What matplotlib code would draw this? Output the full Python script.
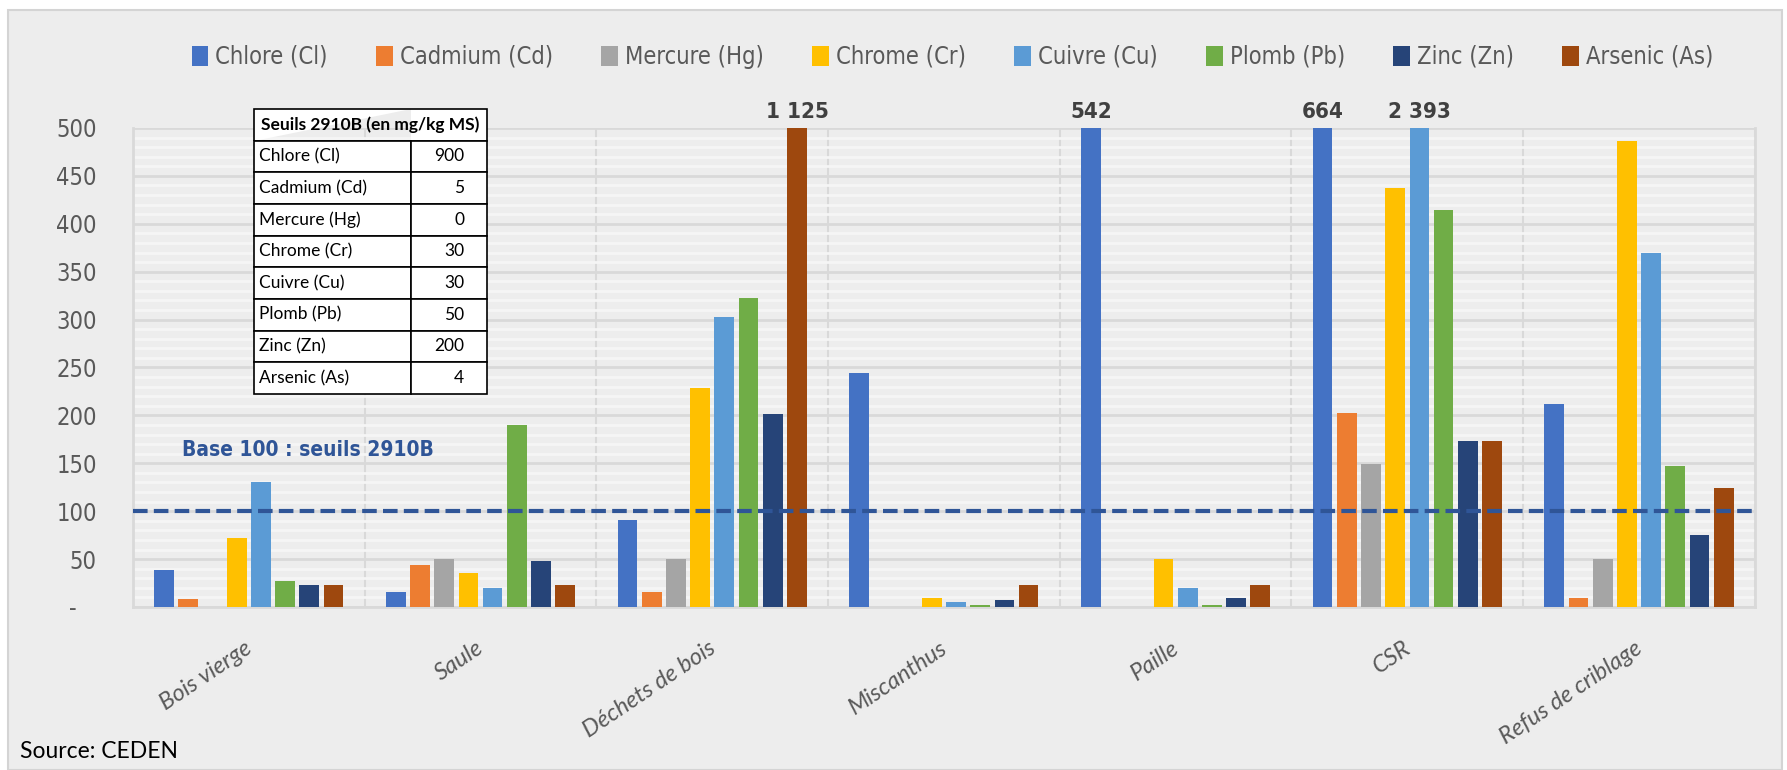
import numpy as np
import matplotlib.pyplot as plt
from matplotlib import font_manager
from matplotlib.patches import Rectangle, Patch

# --- Données (base 100 = seuils 2910B) ---
categories = ['Bois vierge', 'Saule', 'Déchets de bois', 'Miscanthus', 'Paille', 'CSR', 'Refus de criblage']
series_noms = ['Chlore (Cl)', 'Cadmium (Cd)', 'Mercure (Hg)', 'Chrome (Cr)',
               'Cuivre (Cu)', 'Plomb (Pb)', 'Zinc (Zn)', 'Arsenic (As)']
chlore = [39, 16, 91, 244, 542, 664, 212]
cadmium = [8, 44, 16, 0, 0, 202, 9]
mercure = [0, 50, 50, 0, 0, 149, 50]
chrome = [72, 35, 229, 9, 50, 437, 486]
cuivre = [130, 20, 303, 5, 20, 2393, 369]
plomb = [27, 190, 323, 2, 2, 414, 147]
zinc = [23, 48, 201, 7, 9, 173, 75]
arsenic = [23, 23, 1125, 23, 23, 173, 124]
series = [chlore, cadmium, mercure, chrome, cuivre, plomb, zinc, arsenic]

seuil_valeurs = [900, 5, 0, 30, 30, 50, 200, 4]
base = 100
y_max = 500
y_ticks = [0, 50, 100, 150, 200, 250, 300, 350, 400, 450, 500]

couleurs = ['#4472C4', '#ED7D31', '#A5A5A5', '#FFC000', '#5B9BD5', '#70AD47', '#264478', '#9E480E']
gris = '#595959'

# police étroite si dispo (sinon Roboto)
narrow, stretch = ['Roboto', 'DejaVu Sans'], 'normal'
for fam in ['Liberation Sans Narrow', 'DejaVu Sans']:
    try:
        fp = font_manager.FontProperties(family=fam, stretch='condensed')
        f = font_manager.findfont(fp, fallback_to_default=False)
    except Exception:
        continue
    if 'narrow' in f.lower() or 'condensed' in f.lower():
        narrow, stretch = [fam], 'condensed'
        break
calibri = ['Lato', 'DejaVu Sans']

fig = plt.figure(figsize=(17.87, 7.70), dpi=100)
fig.patch.set_facecolor('white')
# fond gris de la zone graphique
fig.add_artist(Rectangle((8 / 1787, 0), 1774 / 1787, 760 / 770, transform=fig.transFigure,
                         facecolor='#EDEDED', edgecolor='#D4D4D4', lw=1.5, zorder=-10))

ax = fig.add_axes([0.0744, 0.2117, 0.9076, 0.6221])
ax.set_facecolor('#EDEDED')

x = np.arange(len(categories))
pas = 0.1045
largeur = 0.085
for j, (vals, nom, c) in enumerate(zip(series, series_noms, couleurs)):
    xs = x + (j - 3.5) * pas
    ax.bar(xs, vals, width=largeur, color=c, zorder=3, label=nom)
    # valeurs hors échelle
    for xi, v in zip(xs, vals):
        if v > y_max:
            ax.annotate(f"{v:,}".replace(",", " "), xy=(xi, y_max), xytext=(0, 4),
                        textcoords='offset points', ha='center', va='bottom',
                        fontsize=16, fontweight='bold', color='#404040',
                        family=narrow, stretch=stretch, annotation_clip=False)

ax.set_xlim(-0.5, len(categories) - 0.5)
ax.set_ylim(0, y_max)

# ligne base 100
ax.axhline(base, color='#2F5597', lw=3, dashes=(3.5, 1.5), zorder=4)
ax.text(-0.29, 164, 'Base 100 : seuils 2910B', color='#2F5597', fontsize=15,
        fontweight='bold', family=narrow, stretch=stretch, va='center', ha='left', zorder=4)

# grilles
ax.set_yticks(y_ticks)
ax.set_yticklabels(['-   '] + [str(t) for t in y_ticks[1:]], fontsize=17, color=gris,
                   family=narrow, stretch=stretch)
ax.set_yticks(np.arange(0, y_max + 1, 10), minor=True)
ax.yaxis.grid(True, which='minor', color='#F5F5F5', lw=2, zorder=0)
ax.yaxis.grid(True, which='major', color='#D9D9D9', lw=2, zorder=1)
ax.set_xticks(np.arange(-0.5, len(categories), 1), minor=True)
ax.xaxis.grid(True, which='minor', color='#D9D9D9', lw=1.5, zorder=1)
ax.set_axisbelow(True)
ax.tick_params(axis='both', which='both', length=0)
ax.tick_params(axis='y', pad=26)

ax.set_xticks(x + 0.03)
ax.set_xticklabels(categories, rotation=34, ha='right', va='top', fontsize=17,
                   style='italic', color=gris, family=calibri)
ax.tick_params(axis='x', pad=22)

ax.spines['top'].set_visible(False)
for s in ['left', 'right', 'bottom']:
    ax.spines[s].set_color('#D9D9D9')
    ax.spines[s].set_linewidth(2)

# tableau des seuils
lignes = [['', '']] + [[n, str(v)] for n, v in zip(series_noms, seuil_valeurs)]
tb_x, tb_y, tb_w, tb_h = 0.0746, 0.4447, 0.1437, 0.595
tbl = ax.table(cellText=lignes, colWidths=[0.674 * tb_w, 0.326 * tb_w],
               bbox=[tb_x, tb_y, tb_w, tb_h], zorder=5)
tbl.auto_set_font_size(False)
for (r, c), cell in tbl.get_celld().items():
    cell.set_facecolor('white')
    cell.set_edgecolor('black')
    cell.set_linewidth(1.2)
    cell.get_text().set_fontsize(12.5)
    cell.get_text().set_family(calibri)
    if c == 0:
        cell.PAD = 0.03
        cell.get_text().set_ha('left')
    else:
        cell.PAD = 0.3
        cell.get_text().set_ha('right')
    if r == 0:
        cell.visible_edges = 'BTL' if c == 0 else 'BTR'
ax.text(tb_x + tb_w / 2, tb_y + tb_h * (1 - 0.5 / len(lignes)), 'Seuils 2910B (en mg/kg MS)',
        transform=ax.transAxes, ha='center', va='center', fontsize=12.5,
        fontweight='bold', family=calibri, zorder=6)

# légende
handles = [Patch(facecolor=c, label=n) for c, n in zip(couleurs, series_noms)]
leg = fig.legend(handles=handles, loc='center', bbox_to_anchor=(0.533, 0.926), ncol=8,
                 frameon=False, handlelength=0.7, handleheight=0.9, handletextpad=0.3,
                 columnspacing=2.05,
                 prop={'family': narrow, 'size': 17 if stretch == 'condensed' else 15.5,
                       'stretch': stretch})
for t in leg.get_texts():
    t.set_color(gris)

fig.text(20 / 1787, 1 - 752 / 770, 'Source: CEDEN', fontsize=16.5, va='center', ha='left',
         family=calibri, color='black')

plt.savefig('out.png', dpi=100, facecolor=fig.get_facecolor())
plt.close()
